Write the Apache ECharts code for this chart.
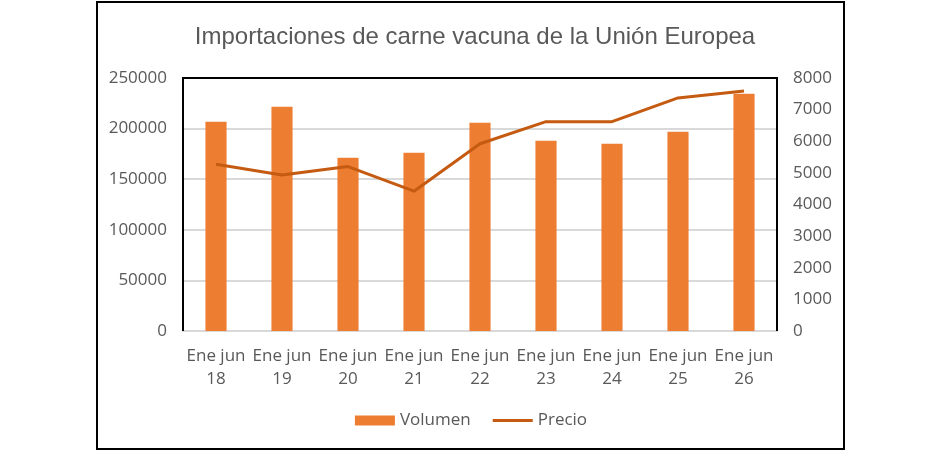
<!DOCTYPE html>
<html>
<head>
<meta charset="utf-8">
<script src="https://cdn.jsdelivr.net/npm/echarts@6/dist/echarts.min.js"></script>
<style>
html, body { margin: 0; padding: 0; background: #fff; }
#chart { width: 942px; height: 452px; }
</style>
</head>
<body>
<div id="chart"></div>
<script>
var categories = ['Ene jun\n18', 'Ene jun\n19', 'Ene jun\n20', 'Ene jun\n21', 'Ene jun\n22',
    'Ene jun\n23', 'Ene jun\n24', 'Ene jun\n25', 'Ene jun\n26'];
var volumen = [206800, 221600, 171200, 176100, 205800, 188000, 185000, 196900, 234500];
var precio = [5270, 4930, 5200, 4420, 5920, 6620, 6620, 7370, 7590];

var textColor = '#595959';
var barColor = '#ED7D31';
var lineColor = '#C55A11';

var chart = echarts.init(document.getElementById('chart'));

// plot area frame (left, top, right in black; bottom is the grey axis line)
var gl = 183, gr = 777, gt = 78, gb = 331;

var option = {
    backgroundColor: '#fff',
    animation: false,
    title: {
        text: 'Importaciones de carne vacuna de la Unión Europea',
        left: 470,
        textAlign: 'center',
        top: 20,
        textStyle: {
            fontFamily: 'Liberation Sans',
            fontWeight: 'normal',
            fontSize: 24,
            color: textColor
        }
    },
    legend: {
        bottom: 18,
        left: 'center',
        itemGap: 22,
        itemWidth: 40,
        itemHeight: 10,
        textStyle: { fontFamily: 'Open Sans', fontSize: 17, color: textColor },
        data: [
            { name: 'Volumen', icon: 'rect' },
            { name: 'Precio', icon: 'path://M0,0 L40,0 L40,3 L0,3 Z', itemStyle: { color: lineColor } }
        ]
    },
    grid: {
        left: gl,
        right: 942 - gr,
        top: gt,
        bottom: 452 - gb
    },
    graphic: [{
        type: 'rect',
        shape: { x: 97, y: 2, width: 747, height: 447 },
        style: { fill: 'none', stroke: '#000', lineWidth: 2 },
        silent: true
    }, {
        type: 'polyline',
        z: 100,
        shape: { points: [[gl, gb], [gl, gt], [gr, gt], [gr, gb]] },
        style: { fill: 'none', stroke: '#000', lineWidth: 2 },
        silent: true
    }],
    xAxis: {
        type: 'category',
        data: categories,
        axisTick: { show: false },
        axisLine: { lineStyle: { color: '#d9d9d9', width: 2 } },
        axisLabel: {
            color: textColor,
            fontFamily: 'Open Sans',
            fontSize: 17,
            lineHeight: 23,
            margin: 14,
            interval: 0
        }
    },
    yAxis: [{
        type: 'value',
        min: 0,
        max: 250000,
        interval: 50000,
        axisLine: { show: false },
        axisTick: { show: false },
        splitLine: { lineStyle: { color: '#d9d9d9', width: 2 } },
        axisLabel: {
            color: textColor, fontFamily: 'Open Sans', fontSize: 17, margin: 16,
            formatter: function (v) { return String(v); }
        }
    }, {
        type: 'value',
        min: 0,
        max: 8000,
        interval: 1000,
        axisLine: { show: false },
        axisTick: { show: false },
        splitLine: { show: false },
        axisLabel: {
            color: textColor, fontFamily: 'Open Sans', fontSize: 17, margin: 16,
            formatter: function (v) { return String(v); }
        }
    }],
    series: [{
        name: 'Volumen',
        type: 'bar',
        data: volumen,
        barWidth: '32%',
        itemStyle: { color: barColor }
    }, {
        name: 'Precio',
        type: 'line',
        yAxisIndex: 1,
        data: precio,
        symbol: 'none',
        lineStyle: { color: lineColor, width: 3 },
        itemStyle: { color: lineColor }
    }]
};

chart.setOption(option);
</script>
</body>
</html>
